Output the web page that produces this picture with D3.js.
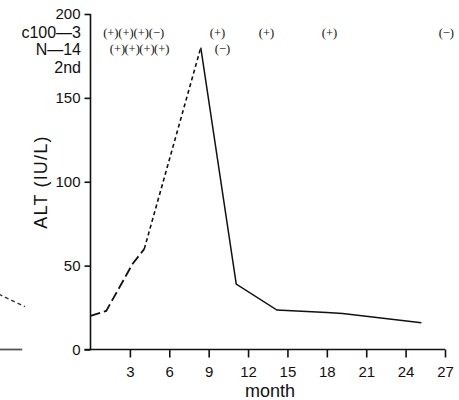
<!DOCTYPE html>
<html>
<head>
<meta charset="utf-8">
<script src="https://cdn.jsdelivr.net/npm/d3@7"></script>
<style>
  body { margin: 0; background: #fff; }
  svg { display: block; font-family: "Liberation Sans", Arial, sans-serif; }
</style>
</head>
<body>
<div id="chart"></div>
<script>
// Data
const yTicks = [0, 50, 100, 150, 200];
const xTicks = [3, 6, 9, 12, 15, 18, 21, 24, 27];

// ALT course, split by line style
const earlyMonths = [0, 1.2, 3.2, 4.1];
const earlyAlt = [20, 23, 51, 60];
const riseMonths = [4.1, 8.4];
const riseAlt = [60, 180];
const lateMonths = [8.4, 11.1, 14.2, 18, 19.2, 25.2];
const lateAlt = [180, 39, 23.5, 22, 21.5, 16];

// marker rows above the plot
const rowLabels = ['c100\u20143', 'N\u201414', '2nd'];
const c100Months = [1.55, 2.7, 3.86, 5.02, 9.67, 13.4, 18.2, 27.1];
const c100Marks = ['+', '+', '+', '\u2212', '+', '+', '+', '\u2212'];
const n14Months = [2.05, 3.17, 4.3, 5.42, 10.05];
const n14Marks = ['+', '+', '+', '+', '\u2212'];

// cut-off piece of the neighbouring panel on the left edge
const edgeBaseMonths = [-7, -5.2];
const edgeBaseAlt = [0, 0];
const edgeDashMonths = [-7, -5.0];
const edgeDashAlt = [33, 25.5];

const width = 459, height = 400;
const svg = d3.select('#chart').append('svg')
    .attr('width', width)
    .attr('height', height);

const x = d3.scaleLinear().domain([0, 27]).range([90.5, 445]);
const y = d3.scaleLinear().domain([0, 200]).range([349.5, 14]);

const line = d3.line()
    .x(d => x(d[0]))
    .y(d => y(d[1]));

const zip = (a, b) => a.map((v, i) => [v, b[i]]);

// axes
const yAxis = svg.append('g')
    .attr('transform', `translate(${x(0)},0)`)
    .call(d3.axisLeft(y).tickValues(yTicks).tickSize(6).tickSizeOuter(0).tickPadding(4));

const xAxis = svg.append('g')
    .attr('transform', `translate(0,${y(0)})`)
    .call(d3.axisBottom(x).tickValues(xTicks).tickSize(8).tickSizeOuter(0).tickPadding(9));

[yAxis, xAxis].forEach(g => {
    g.selectAll('path, line').attr('stroke', '#111').attr('stroke-width', 1.6);
    g.selectAll('text').attr('fill', '#111').style('font-size', '15px');
});
yAxis.select('.domain').attr('d', `M0,${y(200)}V${y(0)}`);
xAxis.select('.domain').attr('d', `M${x(0) - 6},0H${x(27)}`);

// axis titles
svg.append('text')
    .attr('x', 270)
    .attr('y', 397)
    .attr('text-anchor', 'middle')
    .style('font-size', '18px')
    .attr('fill', '#111')
    .text('month');

svg.append('text')
    .attr('transform', 'translate(47,182) rotate(-90)')
    .attr('text-anchor', 'middle')
    .style('font-size', '18px')
    .style('letter-spacing', '1.2px')
    .attr('fill', '#111')
    .text('ALT (IU/L)');

// series
svg.append('path')
    .datum(zip(earlyMonths, earlyAlt))
    .attr('d', line)
    .attr('fill', 'none')
    .attr('stroke', '#111')
    .attr('stroke-width', 1.8)
    .attr('stroke-dasharray', '10,4');

svg.append('path')
    .datum(zip(riseMonths, riseAlt))
    .attr('d', line)
    .attr('fill', 'none')
    .attr('stroke', '#111')
    .attr('stroke-width', 1.6)
    .attr('stroke-dasharray', '4,3');

svg.append('path')
    .datum(zip(lateMonths, lateAlt))
    .attr('d', line)
    .attr('fill', 'none')
    .attr('stroke', '#111')
    .attr('stroke-width', 1.5);

// edge fragment
svg.append('path')
    .datum(zip(edgeBaseMonths, edgeBaseAlt))
    .attr('d', line)
    .attr('fill', 'none')
    .attr('stroke', '#555')
    .attr('stroke-width', 1.8);

svg.append('path')
    .datum(zip(edgeDashMonths, edgeDashAlt))
    .attr('d', line)
    .attr('fill', 'none')
    .attr('stroke', '#333')
    .attr('stroke-width', 1.4)
    .attr('stroke-dasharray', '4,3');

// row labels
const rowY = [38, 55, 73];
svg.selectAll('.row-label')
    .data(rowLabels)
    .enter().append('text')
    .attr('class', 'row-label')
    .attr('x', 81)
    .attr('y', (d, i) => rowY[i])
    .attr('text-anchor', 'end')
    .style('font-size', '16px')
    .attr('fill', '#111')
    .text(d => d);

// markers
function drawMarks(months, marks, baseline) {
    svg.selectAll(null)
        .data(months)
        .enter().append('text')
        .attr('x', d => x(d))
        .attr('y', baseline)
        .attr('text-anchor', 'middle')
        .style('font-size', '12.5px')
        .style('font-family', '"Liberation Serif", serif')
        .attr('fill', '#111')
        .text((d, i) => `(${marks[i]})`);
}
drawMarks(c100Months, c100Marks, 37);
drawMarks(n14Months, n14Marks, 53);
</script>
</body>
</html>
